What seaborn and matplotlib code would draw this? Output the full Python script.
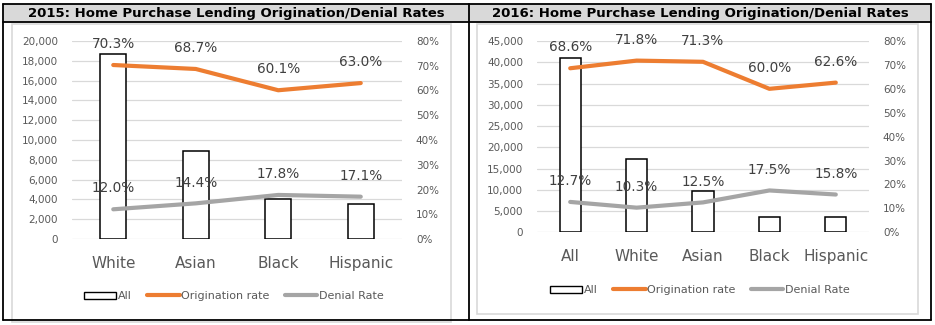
import numpy as np
import matplotlib
matplotlib.use("Agg")
import matplotlib.pyplot as plt
from matplotlib.patches import Rectangle
from matplotlib.lines import Line2D
from matplotlib.ticker import FuncFormatter, MultipleLocator
import seaborn as sns

# 2015 lending data
cats_2015 = ["White", "Asian", "Black", "Hispanic"]
apps_2015 = [18700, 8900, 4000, 3500]
orig_2015 = [70.3, 68.7, 60.1, 63.0]
deny_2015 = [12.0, 14.4, 17.8, 17.1]

# 2016 lending data
cats_2016 = ["All", "White", "Asian", "Black", "Hispanic"]
apps_2016 = [40900, 17300, 9600, 3700, 3500]
orig_2016 = [68.6, 71.8, 71.3, 60.0, 62.6]
deny_2016 = [12.7, 10.3, 12.5, 17.5, 15.8]

titles = ["2015: Home Purchase Lending Origination/Denial Rates",
          "2016: Home Purchase Lending Origination/Denial Rates"]

sns.set_theme(style="white")
plt.rcParams["font.family"] = ["DejaVu Sans"]

W, H = 935, 325
fig = plt.figure(figsize=(W / 100, H / 100), dpi=100)
fig.patch.set_facecolor("white")

ORANGE = "#ED7D31"
GRAY = "#A5A5A5"
TXT = "#595959"
GRID = "#D9D9D9"


def fx(px):
    return px / W


def fy(py):
    return 1 - py / H


def rect(x0, y0, x1, y1, **kw):
    fig.patches.append(Rectangle((fx(x0), fy(y1)), fx(x1) - fx(x0), fy(y0) - fy(y1),
                                 transform=fig.transFigure, **kw))


# table frame: title row + body cells
rect(3, 4, 931, 22, facecolor="#D9D9D9", edgecolor="none", zorder=0)
rect(12, 24, 451, 322, facecolor="none", edgecolor="#D9D9D9", linewidth=1.2, zorder=0)
rect(477, 24, 918, 314, facecolor="none", edgecolor="#D9D9D9", linewidth=1.2, zorder=0)
for (x0, y0, x1, y1) in [(3, 4, 931, 4), (3, 22, 931, 22), (3, 320, 931, 320),
                         (3, 4, 3, 320), (469, 4, 469, 320), (931, 4, 931, 320)]:
    fig.add_artist(Line2D([fx(x0), fx(x1)], [fy(y0), fy(y1)], transform=fig.transFigure,
                          color="black", linewidth=1.3))

fig.text(fx(236), fy(13.5), titles[0], ha="center", va="center",
         fontsize=9.5, fontweight="bold", color="black")
fig.text(fx(700), fy(13.5), titles[1], ha="center", va="center",
         fontsize=9.5, fontweight="bold", color="black")


def panel(box, cats, apps, orig, deny, ymax, ystep, leg_xy):
    x0, y0, x1, y1 = box
    ax = fig.add_axes([fx(x0), fy(y1), fx(x1) - fx(x0), fy(y0) - fy(y1)])
    n = len(cats)
    sns.barplot(x=cats, y=apps, ax=ax, color="white", edgecolor="black",
                linewidth=1.1, width=0.32, saturation=1, zorder=3)
    ax.set_ylim(0, ymax)
    ax.yaxis.set_major_locator(MultipleLocator(ystep))
    ax.yaxis.set_major_formatter(FuncFormatter(lambda v, p: f"{v:,.0f}"))
    ax.grid(axis="y", color=GRID, linewidth=0.9, zorder=0)
    ax.set_axisbelow(True)
    for s in ax.spines.values():
        s.set_visible(False)
    ax.tick_params(axis="y", length=0, pad=10, labelsize=7.5, labelcolor=TXT)
    ax.tick_params(axis="x", length=0, pad=12, labelsize=11, labelcolor=TXT)
    ax.set_xlabel("")
    ax.set_ylabel("")

    ax2 = ax.twinx()
    xs = np.arange(n)
    sns.lineplot(x=xs, y=orig, ax=ax2, color=ORANGE, linewidth=3,
                 solid_capstyle="round", zorder=4)
    sns.lineplot(x=xs, y=deny, ax=ax2, color=GRAY, linewidth=3,
                 solid_capstyle="round", zorder=4)
    ax2.set_ylim(0, 80)
    ax2.yaxis.set_major_locator(MultipleLocator(10))
    ax2.yaxis.set_major_formatter(FuncFormatter(lambda v, p: f"{v:.0f}%"))
    ax2.tick_params(axis="y", length=0, pad=10, labelsize=7.5, labelcolor=TXT)
    ax2.set_ylabel("")
    for s in ax2.spines.values():
        s.set_visible(False)
    ax.set_xlim(-0.5, n - 0.5)
    for series in (orig, deny):
        for i, v in enumerate(series):
            ax2.annotate(f"{v:.1f}%", (i, v), xytext=(0, 15), textcoords="offset points",
                         ha="center", va="center", fontsize=9.8, color="#404040", zorder=5)

    handles = [Rectangle((0, 0), 1, 1, facecolor="white", edgecolor="black", linewidth=1),
               Line2D([], [], color=ORANGE, linewidth=3, solid_capstyle="round"),
               Line2D([], [], color=GRAY, linewidth=3, solid_capstyle="round")]
    fig.legend(handles, ["All", "Origination rate", "Denial Rate"], loc="center",
               bbox_to_anchor=(fx(leg_xy[0]), fy(leg_xy[1])), ncol=3, frameon=False,
               fontsize=8, handlelength=2.9, handletextpad=0.15, columnspacing=1.4,
               labelcolor=TXT, handleheight=0.6)


panel((72, 41, 402, 239), cats_2015, apps_2015, orig_2015, deny_2015, 20000, 2000, (234, 296))
panel((537, 41, 869, 232.3), cats_2016, apps_2016, orig_2016, deny_2016, 45000, 5000, (700, 290))

fig.savefig("out.png", dpi=100, facecolor="white")
